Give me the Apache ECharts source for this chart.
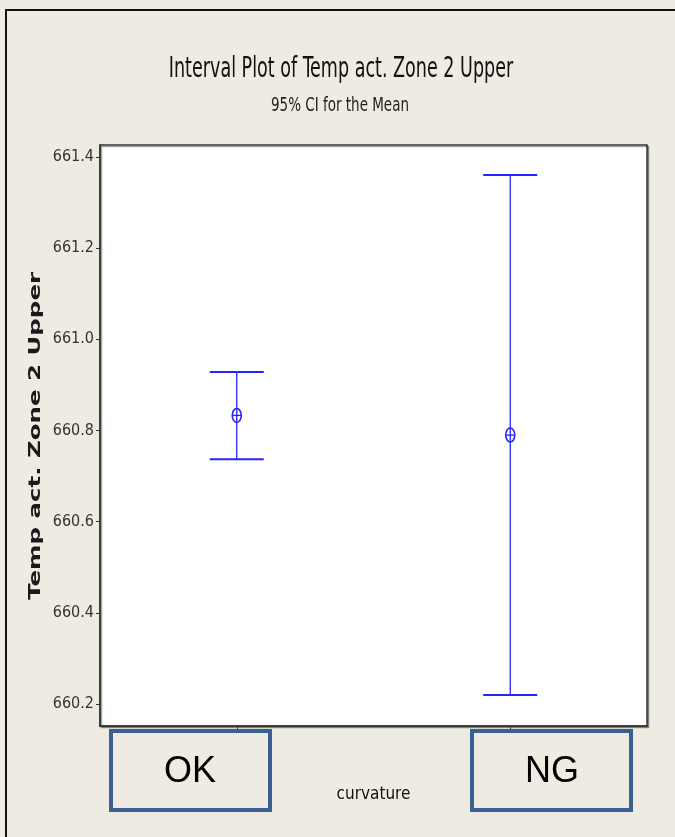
<!DOCTYPE html>
<html>
<head>
<meta charset="utf-8">
<script src="https://cdn.jsdelivr.net/npm/echarts@6/dist/echarts.min.js"></script>
<style>
  html, body { margin: 0; padding: 0; background: #eeebe2; }
  #chart { width: 675px; height: 837px; }
</style>
</head>
<body>
<div id="chart"></div>
<script>
// Interval plot: 95% confidence interval for the mean, by curvature group
const categories = ['OK', 'NG'];
const means = [660.833, 660.790];
const lowerCI = [660.737, 660.220];
const upperCI = [660.928, 661.360];
const yTicks = [660.2, 660.4, 660.6, 660.8, 661.0, 661.2, 661.4];

const NARROW = '"DejaVu Sans Condensed", "Liberation Sans Narrow", sans-serif';
const BLUE = '#2424ff';
const BOX = '#3b5f8e';

const chart = echarts.init(document.getElementById('chart'), null, { renderer: 'canvas' });

const seriesData = categories.map((c, i) => [i, lowerCI[i], upperCI[i], means[i]]);

function renderInterval(params, api) {
  const x = api.coord([api.value(0), 0])[0];
  const yLo = api.coord([api.value(0), api.value(1)])[1];
  const yHi = api.coord([api.value(0), api.value(2)])[1];
  const yMean = api.coord([api.value(0), api.value(3)])[1];
  const cap = 27;
  const line = { stroke: BLUE, lineWidth: 1.3 };
  const capStyle = { stroke: BLUE, lineWidth: 2 };
  return {
    type: 'group',
    children: [
      { type: 'line', shape: { x1: x, y1: yHi, x2: x, y2: yLo }, style: line },
      { type: 'line', shape: { x1: x - cap, y1: yHi, x2: x + cap, y2: yHi }, style: capStyle },
      { type: 'line', shape: { x1: x - cap, y1: yLo, x2: x + cap, y2: yLo }, style: capStyle },
      // mean symbol: open ellipse with a crosshair
      { type: 'ellipse', shape: { cx: x, cy: yMean, rx: 4.5, ry: 7 }, style: { fill: 'none', stroke: BLUE, lineWidth: 1.6 } },
      { type: 'line', shape: { x1: x - 4.5, y1: yMean, x2: x + 4.5, y2: yMean }, style: line }
    ]
  };
}

chart.setOption({
  backgroundColor: '#eeebe2',
  animation: false,
  grid: {
    left: 100, top: 145, right: 28, bottom: 111,
    show: true, backgroundColor: '#ffffff', borderColor: '#333333', borderWidth: 1.5,
    shadowColor: 'rgba(0,0,0,0.35)', shadowOffsetX: 1.5, shadowOffsetY: 1.5, shadowBlur: 0
  },
  xAxis: {
    type: 'category',
    data: categories,
    name: 'curvature',
    nameLocation: 'middle',
    nameGap: 60,
    nameTextStyle: { fontFamily: NARROW, fontSize: 17, color: '#111' },
    axisLine: { show: true, lineStyle: { color: '#333', width: 1.5 } },
    axisTick: { show: true, alignWithLabel: true, length: 3, lineStyle: { color: '#333' } },
    axisLabel: { show: false },
    splitLine: { show: false }
  },
  yAxis: {
    type: 'value',
    min: 660.152,
    max: 661.426,
    axisLine: { show: true, lineStyle: { color: '#333', width: 1.5 } },
    axisTick: { show: true, length: 4, customValues: yTicks, lineStyle: { color: '#333' } },
    axisLabel: {
      customValues: yTicks,
      formatter: v => v.toFixed(1),
      fontFamily: NARROW, fontSize: 16, color: '#333', margin: 6
    },
    splitLine: { show: false }
  },
  series: [{
    type: 'custom',
    renderItem: renderInterval,
    data: seriesData,
    encode: { x: 0, y: [1, 2, 3] },
    clip: false
  }],
  graphic: [
    // window frame lines
    { type: 'line', shape: { x1: 5, y1: 10, x2: 675, y2: 10 }, style: { stroke: '#111', lineWidth: 2 } },
    { type: 'line', shape: { x1: 6, y1: 10, x2: 6, y2: 837 }, style: { stroke: '#111', lineWidth: 2 } },
    // chart title and subtitle, drawn tall and narrow
    {
      type: 'text', x: 341, y: 70, scaleY: 1.45,
      style: {
        text: 'Interval Plot of Temp act. Zone 2 Upper', fill: '#111',
        font: '19.5px ' + NARROW, align: 'center', verticalAlign: 'middle'
      }
    },
    {
      type: 'text', x: 340, y: 106, scaleY: 1.35,
      style: {
        text: '95% CI for the Mean', fill: '#222',
        font: '15px ' + NARROW, align: 'center', verticalAlign: 'middle'
      }
    },
    // y axis title, stretched along its length
    {
      type: 'text', x: 36, y: 436, rotation: Math.PI / 2, scaleX: 1.63,
      style: {
        text: 'Temp act. Zone 2 Upper', fill: '#1a1a1a',
        font: 'bold 15px "DejaVu Sans", sans-serif',
        align: 'center', verticalAlign: 'middle'
      }
    },
    // category boxes
    { type: 'rect', shape: { x: 111, y: 731, width: 159, height: 79 }, style: { fill: 'none', stroke: BOX, lineWidth: 4 } },
    { type: 'rect', shape: { x: 472, y: 731, width: 159, height: 79 }, style: { fill: 'none', stroke: BOX, lineWidth: 4 } },
    {
      type: 'text', x: 190, y: 772,
      style: { text: categories[0], fill: '#000', font: '36px "Liberation Sans Narrow", sans-serif', align: 'center', verticalAlign: 'middle' }
    },
    {
      type: 'text', x: 552, y: 772,
      style: { text: categories[1], fill: '#000', font: '36px "Liberation Sans Narrow", sans-serif', align: 'center', verticalAlign: 'middle' }
    }
  ]
});
</script>
</body>
</html>
